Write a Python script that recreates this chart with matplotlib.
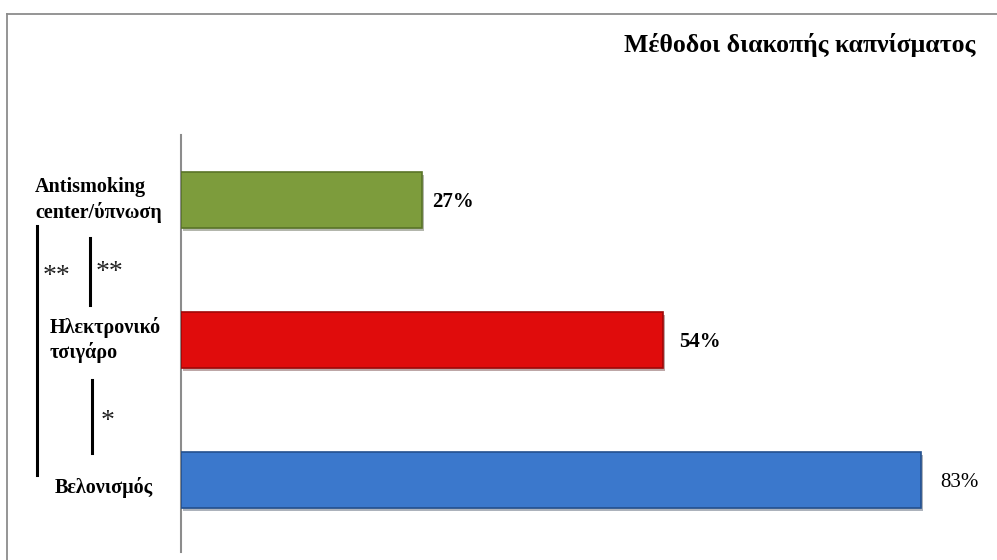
import matplotlib
matplotlib.use('Agg')
import matplotlib.pyplot as plt
import matplotlib.patheffects as pe
from matplotlib.lines import Line2D

# methods, top to bottom
methods = ['Antismoking\ncenter/ύπνωση', 'Ηλεκτρονικό\nτσιγάρο', 'Βελονισμός']
percent = [27, 54, 83]
value_labels = ['27%', '54%', '83%']
title = 'Μέθοδοι διακοπής καπνίσματος'

bar_colors = ['#7d9c3c', '#e00c0c', '#3b78cc']
edge_colors = ['#5a7428', '#a00808', '#24508e']

plt.rcParams['font.family'] = ['Liberation Serif', 'DejaVu Serif']

fig = plt.figure(figsize=(9.97, 5.6), dpi=100, facecolor='white')
ax = fig.add_axes([181 / 997, 8 / 560, 816 / 997, 417 / 560])

ypos = [2, 1, 0]
bars = ax.barh(ypos, percent, height=0.4, color=bar_colors,
               edgecolor=edge_colors, linewidth=1.2, zorder=3)
for b in bars:
    b.set_path_effects([pe.SimplePatchShadow(offset=(1.5, -2), alpha=0.35),
                        pe.Normal()])

ax.set_xlim(0, 91.5)
ax.set_ylim(-0.514, 2.464)
ax.set_xticks([])
ax.set_yticks([])
for s in ['top', 'right', 'bottom']:
    ax.spines[s].set_visible(False)
ax.spines['left'].set_color('#8c8c8c')
ax.spines['left'].set_linewidth(1.5)

# value labels at bar ends
pads = [10, 17, 19]
weights = ['bold', 'bold', 'normal']
for y, v, lab, p, w in zip(ypos, percent, value_labels, pads, weights):
    ax.annotate(lab, (v, y), xytext=(p, -2), textcoords='offset pixels',
                va='center', ha='left', fontsize=15, fontweight=w)

# category names left of the axis
def fx(px):
    return (px - 181) / 816

tr = ax.get_yaxis_transform()
name_x = [35, 50, 55]
name_dy = [0, 0, -0.05]
for y, name, nx, dy in zip(ypos, methods, name_x, name_dy):
    ax.text(fx(nx), y + dy, name, transform=tr, ha='left', va='center',
            fontsize=14.5, fontweight='bold', linespacing=1.3, clip_on=False)

# significance brackets
for x, y0, y1 in [(37, 1.814, 0.036), (90, 1.729, 1.25), (92, 0.714, 0.193)]:
    ax.add_line(Line2D([fx(x), fx(x)], [y0, y1], transform=tr, color='black',
                       lw=2.2, clip_on=False))
for x, y, s in [(57, 1.45, '**'), (110, 1.48, '**'), (108, 0.42, '*')]:
    ax.text(fx(x), y, s, transform=tr, ha='center', va='center', fontsize=20,
            color='#222222', clip_on=False)

# outer frame (left and top edges)
fig.add_artist(Line2D([7 / 997, 7 / 997], [0, 1 - 14 / 560],
                      transform=fig.transFigure, color='#8c8c8c', lw=1.3))
fig.add_artist(Line2D([7 / 997, 1], [1 - 14 / 560, 1 - 14 / 560],
                      transform=fig.transFigure, color='#8c8c8c', lw=1.3))

fig.text(975 / 997, 1 - 45 / 560, title, ha='right', va='center',
         fontsize=18.5, fontweight='bold')

fig.savefig('out.png', dpi=100)
